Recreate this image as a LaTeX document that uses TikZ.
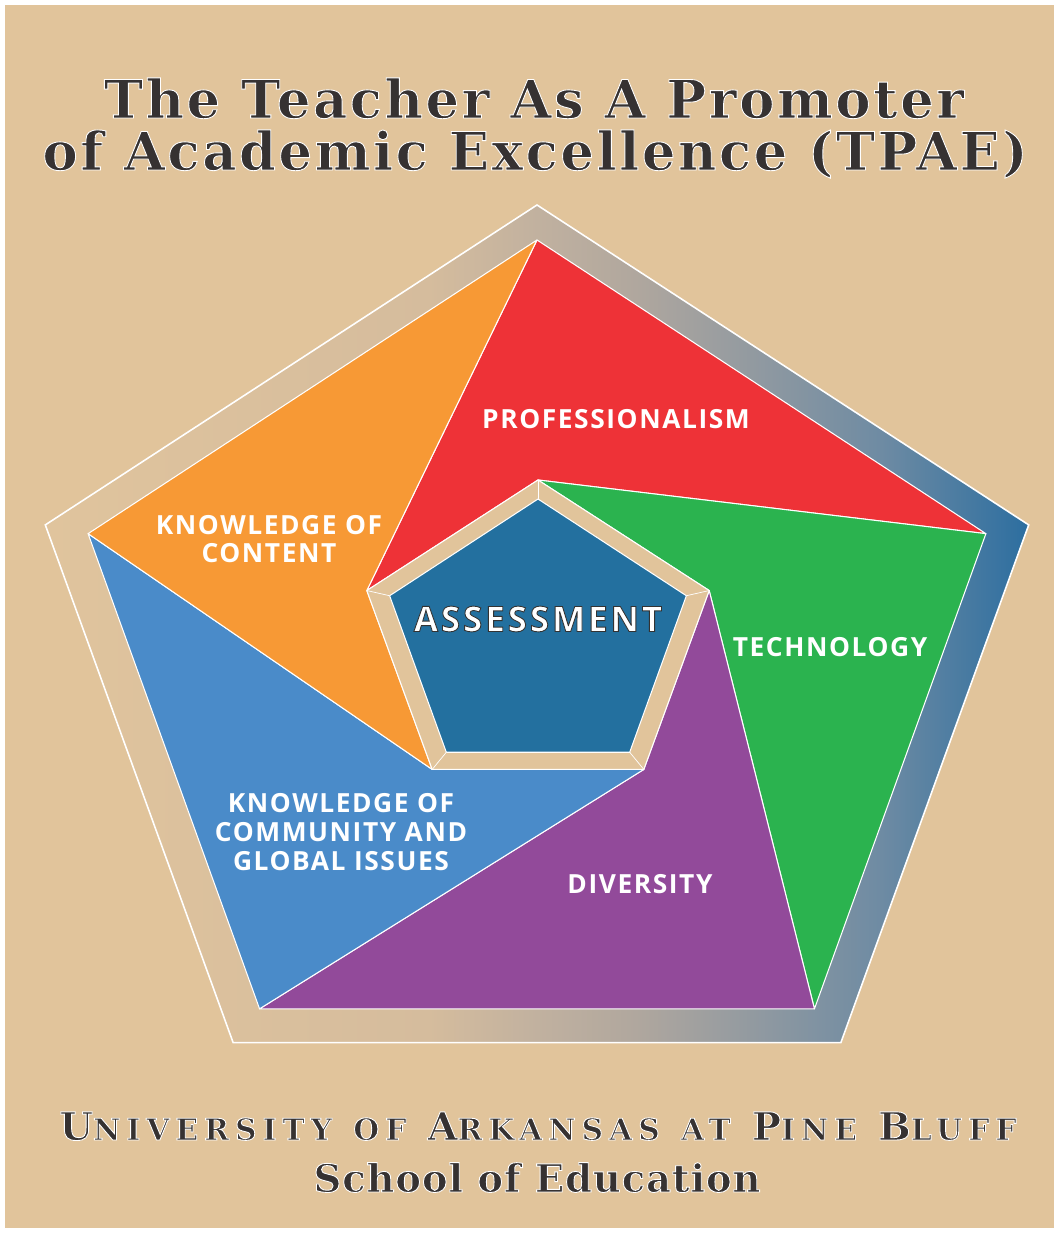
\documentclass[tikz,border=0pt]{standalone}
\usepackage{fontspec}
\usepackage{tikz}
\usetikzlibrary{calc}

\setmainfont{DejaVu Serif}
\newfontfamily\titlefont[LetterSpace=5]{DejaVu Serif}
\newfontfamily\univfont[LetterSpace=20]{DejaVu Serif}
\newfontfamily\schoolfont[LetterSpace=2]{DejaVu Serif}
\newfontfamily\labelfont[LetterSpace=6]{Open Sans}
\newfontfamily\hubfont[LetterSpace=8]{Open Sans}

\definecolor{bgbeige}{HTML}{E1C49B}
\definecolor{titlegray}{HTML}{363232}
\definecolor{profred}{HTML}{EE3237}
\definecolor{contorange}{HTML}{F79935}
\definecolor{techgreen}{HTML}{2BB34F}
\definecolor{divpurple}{HTML}{924A9A}
\definecolor{commblue}{HTML}{4A8BC9}
\definecolor{hubblue}{HTML}{23709F}
% colours of the outer frame, left to right
\definecolor{fbeige}{HTML}{E0C49D}
\definecolor{fmidA}{HTML}{D5BC9D}
\definecolor{fmidB}{HTML}{C1B19F}
\definecolor{fmidC}{HTML}{B0A79E}
\definecolor{fmidD}{HTML}{979CA0}
\definecolor{fmidE}{HTML}{6E8BA3}
\definecolor{fblue}{HTML}{2C6EA0}
\pgfdeclarehorizontalshading{framefade}{100bp}{color(0bp)=(fbeige); color(25bp)=(fbeige);
  color(44.5bp)=(fmidA); color(50bp)=(fmidB); color(55bp)=(fmidC); color(60bp)=(fmidD);
  color(67.5bp)=(fmidE); color(75bp)=(fblue); color(100bp)=(fblue)}

% letters filled as usual and stroked with a rim: #1 = rgb of the rim, #2 = its width
\newcommand{\rimmed}[3]{{\special{pdf:literal direct #1 RG #2 w 2 Tr}#3\special{pdf:literal direct 0 Tr}}}
\newcommand{\smc}[1]{{\fontsize{17}{17}\selectfont #1}}

\begin{document}
\begin{tikzpicture}[x=0.02cm, y=0.02cm]
    % Define styles
    \tikzstyle{piece} = [draw=white, line width=0.6pt, line join=round]
    \tikzstyle{areatext} = [text=white, align=center, font=\labelfont\bfseries\fontsize{15}{16.3}\selectfont]
    \tikzstyle{heading} = [anchor=base, text=titlegray, font=\titlefont\bfseries\fontsize{30}{30}\selectfont]
    \tikzstyle{footing} = [anchor=base, text=titlegray, font=\bfseries\fontsize{22}{22}\selectfont]

    \useasboundingbox (0,0) rectangle (1058,1233);
    \fill[white] (0,0) rectangle (1058,1233);
    \fill[bgbeige] (5,5) rectangle (1054,1228);

    % Corners of the four pentagons
    \foreach \i/\a in {1/90, 2/18, 3/-54, 4/-126, 5/162} {
        \coordinate (f\i) at ($(537,565)+(\a:517 and 463)$);
        \coordinate (p\i) at ($(537,568)+(\a:472 and 425)$);
        \coordinate (q\i) at ($(538,593)+(\a:180 and 160)$);
        \coordinate (b\i) at ($(538,594)+(\a:156 and 140)$);
    }

    % Outer frame
    \shade[shading=framefade] (f1) -- (f2) -- (f3) -- (f4) -- (f5) -- cycle;
    \draw[white, line width=0.9pt] (f1) -- (f2) -- (f3) -- (f4) -- (f5) -- cycle;

    % Pinwheel of the five areas
    \fill[piece, fill=profred]    (p1) -- (p2) -- (q1) -- (q5) -- cycle;
    \fill[piece, fill=techgreen]  (p2) -- (p3) -- (q2) -- (q1) -- cycle;
    \fill[piece, fill=divpurple]  (p3) -- (p4) -- (q3) -- (q2) -- cycle;
    \fill[piece, fill=commblue]   (p4) -- (p5) -- (q4) -- (q3) -- cycle;
    \fill[piece, fill=contorange] (p5) -- (p1) -- (q5) -- (q4) -- cycle;

    % Centre pentagon with its beige rim
    \filldraw[piece, fill=bgbeige] (q1) -- (q2) -- (q3) -- (q4) -- (q5) -- cycle;
    \foreach \i in {1,...,5}
        \draw[white, line width=0.4pt] (q\i) -- (b\i);
    \filldraw[piece, fill=hubblue] (b1) -- (b2) -- (b3) -- (b4) -- (b5) -- cycle;

    % Nodes
    \node (title1) [heading] at (534,1115) {\rimmed{1 1 1}{0.5}{The Teacher As A Promoter}};
    \node (title2) [heading] at (535,1063) {\rimmed{1 1 1}{0.5}{of Academic Excellence (TPAE)}};

    \node (prof) [areatext] at (616,814) {PROFESSIONALISM};
    \node (content) [areatext] at (269,694) {KNOWLEDGE OF\\CONTENT};
    \node (tech) [areatext] at (830,586) {TECHNOLOGY};
    \node (diversity) [areatext] at (640,349) {DIVERSITY};
    \node (community) [areatext] at (341,401) {KNOWLEDGE OF\\COMMUNITY AND\\GLOBAL ISSUES};
    \node (assess) [text=white, font=\hubfont\bfseries\fontsize{20}{20}\selectfont] at (538,614)
        {\rimmed{0.2 0.2 0.2}{0.5}{ASSESSMENT}};

    \node (univ) [footing, font=\univfont\bfseries\fontsize{22}{22}\selectfont] at (538,93)
        {\rimmed{1 1 1}{0.5}{U\smc{NIVERSITY} \smc{OF} A\smc{RKANSAS} \smc{AT} P\smc{INE} B\smc{LUFF}}};
    \node (school) [footing, font=\schoolfont\bfseries\fontsize{22}{22}\selectfont] at (537,41)
        {\rimmed{1 1 1}{0.5}{School of Education}};
\end{tikzpicture}
\end{document}
